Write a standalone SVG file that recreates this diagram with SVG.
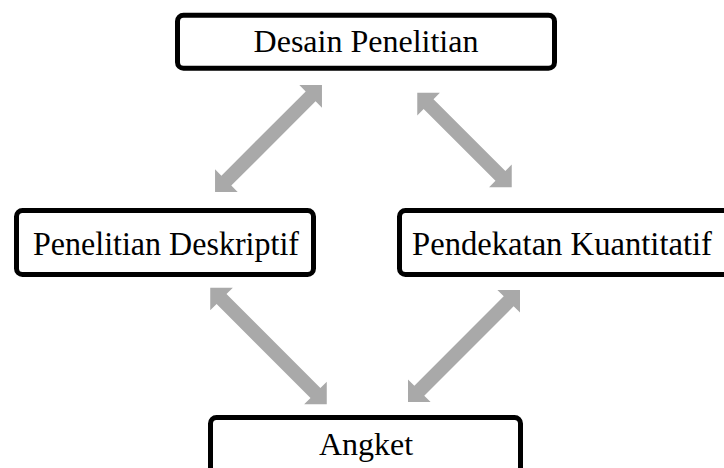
<svg xmlns="http://www.w3.org/2000/svg" width="724" height="468" viewBox="0 0 724 468">
<style>
.box{fill:#ffffff;stroke:#000000;stroke-width:5}
.lbl{font-family:"Liberation Serif","Times New Roman",serif;font-size:32px;fill:#000000}
.tall{font-size:34px}
.arr{fill:#a9a9a9;stroke:none}
</style>
<rect width="724" height="468" fill="#ffffff"/>
<g id="connectors">
<polygon class="arr" transform="translate(268.5,138.5) rotate(-45)" points="-75.6,0 -59.6,-16 -59.6,-7 59.6,-7 59.6,-16 75.6,0 59.6,16 59.6,7 -59.6,7 -59.6,16"/>
<polygon class="arr" transform="translate(464.5,140) rotate(45)" points="-66.8,0 -50.8,-16 -50.8,-7 50.8,-7 50.8,-16 66.8,0 50.8,16 50.8,7 -50.8,7 -50.8,16"/>
<polygon class="arr" transform="translate(268.5,346) rotate(45)" points="-82.4,0 -66.4,-16 -66.4,-7 66.4,-7 66.4,-16 82.4,0 66.4,16 66.4,7 -66.4,7 -66.4,16"/>
<polygon class="arr" transform="translate(464,346) rotate(-45)" points="-79.2,0 -63.2,-16 -63.2,-7 63.2,-7 63.2,-16 79.2,0 63.2,16 63.2,7 -63.2,7 -63.2,16"/>
</g>
<g id="desain-penelitian">
<rect class="box" x="177.5" y="15.2" width="377" height="53" rx="6"/>
<text class="lbl" x="366" y="52" text-anchor="middle">Desain Penelitian</text>
</g>
<g id="penelitian-deskriptif">
<rect class="box" x="16.5" y="210.5" width="297" height="64" rx="6"/>
<text class="lbl tall" x="33" y="255" textLength="266" lengthAdjust="spacingAndGlyphs">Penelitian Deskriptif</text>
</g>
<g id="pendekatan-kuantitatif">
<rect class="box" x="399.5" y="210.5" width="330" height="64" rx="6"/>
<text class="lbl tall" x="412" y="255" textLength="300" lengthAdjust="spacingAndGlyphs">Pendekatan Kuantitatif</text>
</g>
<g id="angket">
<rect class="box" x="210.5" y="417.5" width="310" height="62" rx="6"/>
<text class="lbl" x="366" y="455" text-anchor="middle">Angket</text>
</g>
</svg>
